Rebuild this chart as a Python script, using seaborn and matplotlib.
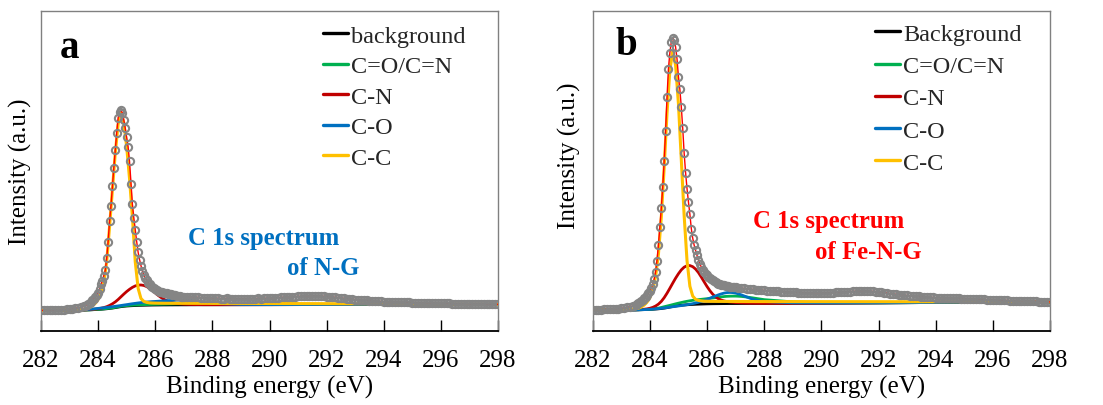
import numpy as np
import matplotlib
matplotlib.use("Agg")
import matplotlib.pyplot as plt
from matplotlib.lines import Line2D
import seaborn as sns

# ---------------- data ----------------
# measured spectrum energies: three regular segments
be_left = np.round(np.arange(282.0, 283.45, 0.1), 2)
be_peak = np.round(np.arange(283.5, 286.975, 0.05), 2)
be_tail = np.round(np.arange(287.0, 298.05, 0.1), 2)

# panel a (N-G) measured intensities
meas_a_left = [6.3, 6.3, 6.3, 6.35, 6.3, 6.4, 6.4, 6.45, 6.5, 6.6, 6.7, 6.8, 7.0, 7.1, 7.3]
meas_a_peak = [7.6, 7.8, 8.0, 8.3, 8.6, 9.0, 9.4, 9.9, 10.4, 11.0,
               11.8, 13.0, 14.5, 15.6, 17.2, 18.8, 22.6, 27.8, 34.2, 39.0,
               45.2, 51.0, 56.5, 61.8, 66.6, 68.4, 68.9, 68.1, 65.8, 63.3,
               60.5, 57.5, 52.9, 46.0, 39.5, 35.3, 31.6, 27.8, 24.5, 22.2,
               20.3, 18.6, 17.3, 16.4, 15.7, 15.0, 14.4, 14.0, 13.6, 13.3,
               12.9, 12.7, 12.5, 12.2, 12.0, 11.9, 11.8, 11.7, 11.6, 11.5,
               11.4, 11.3, 11.2, 11.1, 11.0, 10.9, 10.8, 10.7, 10.6, 10.6]
meas_a_tail = [10.6, 10.6, 10.5, 10.5, 10.4, 10.4, 10.3, 10.3, 10.2, 10.2,
               10.1, 10.1, 10.1, 10.0, 10.0, 10.1, 10.0, 9.9, 10.0, 10.0,
               9.9, 10.0, 10.0, 9.9, 10.0, 10.0, 10.1, 10.0, 10.1, 10.1,
               10.2, 10.2, 10.3, 10.3, 10.4, 10.4, 10.5, 10.5, 10.6, 10.6,
               10.7, 10.7, 10.8, 10.8, 10.8, 10.9, 10.8, 10.8, 10.8, 10.7,
               10.6, 10.5, 10.5, 10.4, 10.3, 10.2, 10.1, 10.0, 9.9, 9.8,
               9.7, 9.6, 9.5, 9.4, 9.4, 9.3, 9.2, 9.2, 9.1, 9.1,
               9.0, 9.0, 9.0, 8.9, 8.9, 8.9, 8.8, 8.8, 8.8, 8.8,
               8.7, 8.7, 8.7, 8.7, 8.6, 8.6, 8.6, 8.6, 8.6, 8.5,
               8.5, 8.5, 8.5, 8.5, 8.4, 8.4, 8.4, 8.4, 8.4, 8.4,
               8.3, 8.3, 8.3, 8.3, 8.3, 8.3, 8.2, 8.2, 8.2, 8.2,
               8.2]

# panel b (Fe-N-G) measured intensities
meas_b_left = [6.7, 6.7, 6.7, 6.7, 6.75, 6.8, 6.8, 6.85, 6.9, 7.0, 7.1, 7.25, 7.4, 7.6, 7.8]
meas_b_peak = [8.0, 8.3, 8.6, 9.0, 9.4, 9.8, 10.2, 10.7, 11.2, 11.8,
               12.5, 13.4, 14.6, 16.2, 18.5, 22.0, 27.0, 32.5, 38.5, 45.0,
               53.0, 62.5, 73.0, 82.0, 87.0, 90.3, 91.6, 90.8, 88.8, 85.0,
               79.5, 75.5, 70.0, 63.3, 55.5, 49.5, 44.5, 40.3, 36.5, 32.0,
               29.0, 26.8, 25.2, 23.6, 22.3, 21.0, 20.0, 19.2, 18.5, 17.9,
               17.4, 17.0, 16.6, 16.2, 15.9, 15.6, 15.3, 15.0, 14.8, 14.6,
               14.5, 14.4, 14.3, 14.2, 14.1, 14.0, 13.9, 13.8, 13.7, 13.6]
meas_b_tail = [13.6, 13.5, 13.4, 13.3, 13.2, 13.1, 13.0, 12.9, 12.8, 12.8,
               12.7, 12.6, 12.6, 12.5, 12.4, 12.4, 12.3, 12.3, 12.2, 12.2,
               12.1, 12.1, 12.0, 12.0, 12.0, 11.9, 11.9, 11.9, 11.9, 11.9,
               11.9, 11.9, 12.0, 12.0, 12.0, 12.1, 12.1, 12.2, 12.2, 12.3,
               12.3, 12.4, 12.4, 12.5, 12.5, 12.5, 12.5, 12.4, 12.4, 12.3,
               12.2, 12.1, 12.0, 11.9, 11.7, 11.6, 11.5, 11.4, 11.3, 11.2,
               11.1, 11.0, 10.9, 10.8, 10.8, 10.7, 10.6, 10.6, 10.5, 10.5,
               10.4, 10.4, 10.4, 10.3, 10.3, 10.3, 10.2, 10.2, 10.2, 10.1,
               10.1, 10.1, 10.0, 10.0, 10.0, 9.9, 9.9, 9.9, 9.8, 9.8,
               9.7, 9.7, 9.7, 9.6, 9.6, 9.6, 9.5, 9.5, 9.5, 9.5,
               9.4, 9.4, 9.4, 9.3, 9.3, 9.3, 9.2, 9.2, 9.2, 9.1,
               9.1]

# fitted components, common energy grid
comp_be = np.concatenate([[282.0, 283.0],
                          np.round(np.arange(283.5, 288.05, 0.1), 2),
                          [289.0, 290.0, 292.0, 294.0, 296.0, 298.0]])

bg_a = [6.3, 6.35,
        6.40, 6.42, 6.45, 6.50, 6.55,
        6.60, 6.65, 6.72, 6.80, 6.90, 7.02, 7.16, 7.32, 7.46, 7.57,
        7.66, 7.72, 7.77, 7.81, 7.85, 7.88, 7.90, 7.92, 7.94, 7.96,
        7.97, 7.98, 7.99, 8.00, 8.00, 8.01, 8.01, 8.02, 8.02, 8.03,
        8.03, 8.03, 8.04, 8.04, 8.04, 8.05, 8.05, 8.05, 8.05, 8.06,
        8.06,
        8.07, 8.08, 8.12, 8.15, 8.18, 8.2]
coxn_a = [6.3, 6.35,
          6.42, 6.44, 6.47, 6.52, 6.58,
          6.64, 6.70, 6.78, 6.87, 6.97, 7.10, 7.25, 7.42, 7.58, 7.70,
          7.80, 7.87, 7.93, 7.98, 8.02, 8.06, 8.09, 8.12, 8.15, 8.18,
          8.20, 8.22, 8.24, 8.26, 8.28, 8.30, 8.32, 8.34, 8.35, 8.36,
          8.37, 8.38, 8.39, 8.40, 8.40, 8.41, 8.41, 8.41, 8.40, 8.40,
          8.39,
          8.30, 8.18, 8.14, 8.16, 8.18, 8.2]
cn_a = [6.3, 6.35,
        6.45, 6.5, 6.55, 6.62, 6.7,
        6.82, 6.97, 7.17, 7.45, 7.85, 8.35, 8.95, 9.7, 10.55, 11.4,
        12.2, 12.9, 13.5, 13.95, 14.2, 14.25, 14.1, 13.75, 13.2, 12.5,
        11.75, 11.0, 10.35, 9.8, 9.35, 9.0, 8.75, 8.55, 8.42, 8.33,
        8.25, 8.2, 8.16, 8.13, 8.11, 8.1, 8.09, 8.08, 8.08, 8.07,
        8.07,
        8.07, 8.08, 8.12, 8.15, 8.18, 8.2]
co_a = [6.3, 6.35,
        6.5, 6.55, 6.63, 6.72, 6.82,
        6.92, 7.02, 7.12, 7.22, 7.33, 7.45, 7.57, 7.7, 7.83, 7.97,
        8.1, 8.24, 8.38, 8.5, 8.62, 8.73, 8.83, 8.91, 8.98, 9.05,
        9.1, 9.16, 9.22, 9.28, 9.33, 9.38, 9.43, 9.47, 9.5, 9.52,
        9.52, 9.5, 9.45, 9.38, 9.28, 9.16, 9.02, 8.88, 8.74, 8.6,
        8.48,
        8.15, 8.1, 8.12, 8.15, 8.18, 8.2]
cc_a = [6.3, 6.4,
        6.6, 6.8, 7.15, 7.7, 8.5,
        9.7, 11.6, 15.0, 21.5, 32.5, 44.0, 55.5, 64.5, 68.3, 65.0,
        57.5, 47.5, 35.5, 21.5, 13.2, 10.0, 9.1, 8.8, 8.65, 8.6,
        8.57, 8.55, 8.54, 8.53, 8.52, 8.52, 8.51, 8.51, 8.5, 8.5,
        8.5, 8.5, 8.5, 8.5, 8.5, 8.5, 8.49, 8.49, 8.49, 8.49,
        8.48,
        8.47, 8.45, 8.4, 8.33, 8.27, 8.22]

bg_b = [6.6, 6.6,
        6.6, 6.62, 6.65, 6.68, 6.72,
        6.76, 6.8, 6.86, 6.93, 7.02, 7.15, 7.3, 7.48, 7.66, 7.82,
        7.95, 8.05, 8.13, 8.2, 8.26, 8.31, 8.35, 8.39, 8.42, 8.45,
        8.48, 8.5, 8.52, 8.53, 8.54, 8.55, 8.56, 8.57, 8.58, 8.58,
        8.59, 8.59, 8.6, 8.6, 8.6, 8.61, 8.61, 8.61, 8.62, 8.62,
        8.62,
        8.65, 8.7, 8.8, 8.9, 8.95, 9.0]
coxn_b = [6.6, 6.6,
          6.62, 6.64, 6.67, 6.71, 6.76,
          6.82, 6.9, 7.0, 7.15, 7.35, 7.58, 7.8, 8.02, 8.25, 8.48,
          8.7, 8.9, 9.1, 9.28, 9.44, 9.58, 9.7, 9.8, 9.9, 10.0,
          10.1, 10.2, 10.32, 10.44, 10.56, 10.67, 10.77, 10.84, 10.88, 10.9,
          10.9, 10.86, 10.8, 10.71, 10.6, 10.48, 10.35, 10.21, 10.07, 9.93,
          9.8,
          9.1, 8.8, 8.8, 8.9, 8.95, 9.0]
cn_b = [6.6, 6.6,
        6.62, 6.66, 6.72, 6.8, 6.92,
        7.1, 7.38, 7.8, 8.4, 9.25, 10.4, 11.8, 13.35, 14.95, 16.5,
        17.9, 19.1, 19.95, 20.4, 20.45, 20.1, 19.35, 18.25, 16.85, 15.35,
        13.9, 12.6, 11.5, 10.65, 10.05, 9.65, 9.38, 9.2, 9.07, 8.98,
        8.9, 8.84, 8.79, 8.75, 8.72, 8.7, 8.68, 8.67, 8.66, 8.65,
        8.65,
        8.66, 8.7, 8.8, 8.9, 8.95, 9.0]
co_b = [6.6, 6.6,
        6.6, 6.62, 6.65, 6.68, 6.72,
        6.78, 6.85, 6.92, 7.0, 7.1, 7.2, 7.32, 7.45, 7.58, 7.7,
        7.82, 7.95, 8.08, 8.22, 8.38, 8.55, 8.75, 8.98, 9.25, 9.55,
        9.9, 10.25, 10.6, 10.95, 11.3, 11.6, 11.85, 12.0, 12.05, 12.0,
        11.85, 11.6, 11.3, 10.95, 10.6, 10.25, 9.95, 9.7, 9.5, 9.35,
        9.2,
        8.8, 8.75, 8.8, 8.9, 8.95, 9.0]
cc_b = [6.6, 6.7,
        6.9, 7.1, 7.5, 8.1, 9.0,
        10.4, 12.8, 17.0, 24.0, 35.5, 51.0, 68.0, 81.5, 87.5, 83.0,
        71.0, 53.5, 36.0, 22.0, 14.0, 10.9, 9.9, 9.55, 9.4, 9.33,
        9.3, 9.28, 9.27, 9.26, 9.25, 9.25, 9.24, 9.24, 9.23, 9.23,
        9.23, 9.22, 9.22, 9.22, 9.21, 9.21, 9.21, 9.2, 9.2, 9.2,
        9.2,
        9.19, 9.18, 9.16, 9.14, 9.12, 9.1]

legend_a = ["background", "C=O/C=N", "C-N", "C-O", "C-C"]
legend_b = ["Background", "C=O/C=N", "C-N", "C-O", "C-C"]
xticks = [282, 284, 286, 288, 290, 292, 294, 296, 298]

# ---------------- style ----------------
sns.set_theme(style="white")
plt.rcParams["font.family"] = ["Liberation Serif", "DejaVu Serif"]

comp_colors = ["#000000", "#00B050", "#C00000", "#0070C0", "#FFC000"]
comp_lw = [2.0, 2.0, 2.0, 2.0, 2.2]

fig = plt.figure(figsize=(11.03, 4.06), dpi=100)
ax_a = fig.add_axes([41 / 1103, 1 - 331.5 / 406, 457 / 1103, 319.5 / 406])
ax_b = fig.add_axes([592.7 / 1103, 1 - 332 / 406, 457.3 / 1103, 320 / 406])


def draw(ax, meas_y, comps, labels, letter, note1, note2, note_color, n1xy, n2xy,
         ylab_xy, leg_y, leg_sp):
    be = np.concatenate([be_left, be_peak, be_tail])
    y = np.concatenate([meas_y[0], meas_y[1], meas_y[2]])
    for k, (vals, c, lw) in enumerate(zip(comps, comp_colors, comp_lw)):
        sns.lineplot(x=comp_be, y=vals, ax=ax, color=c, lw=lw, estimator=None,
                     sort=False, legend=False, zorder=2 + k)
    # fitted envelope (follows the measured points)
    sns.lineplot(x=be, y=y, ax=ax, color="#FF0000", lw=1.0, estimator=None,
                 sort=False, legend=False, zorder=8)
    # measured points
    sns.lineplot(x=be, y=y, ax=ax, marker="o", linestyle="none", lw=0,
                 markersize=5.2, markerfacecolor="none", markeredgecolor="#858585",
                 markeredgewidth=1.5, estimator=None, sort=False, legend=False, zorder=9)
    ax.set_xlim(282, 298)
    ax.set_ylim(0, 100)
    ax.set_xticks(xticks)
    ax.set_xticklabels([str(t) for t in xticks])
    ax.set_yticks([])
    ax.tick_params(axis="x", bottom=True, direction="in", length=8, width=1,
                   color="black", labelsize=18, pad=13, labelcolor="black")
    for s in ["left", "top", "right"]:
        ax.spines[s].set_color("#808080")
        ax.spines[s].set_linewidth(1.0)
    ax.spines["bottom"].set_color("black")
    ax.spines["bottom"].set_linewidth(1.3)
    ax.set_xlabel("Binding energy (eV)", fontsize=18, color="black", labelpad=3)
    ax.set_ylabel("Intensity (a.u.)", fontsize=18, color="black")
    ax.yaxis.set_label_coords(*ylab_xy)
    handles = [Line2D([], [], color=c, lw=2.4) for c in comp_colors]
    ax.legend(handles, labels, loc="upper left", bbox_to_anchor=(0.617, leg_y),
              frameon=False, fontsize=17.5, handlelength=1.05, handletextpad=0.12,
              labelspacing=leg_sp, borderpad=0, borderaxespad=0)
    ax.text(letter[1], letter[2], letter[0], transform=ax.transAxes, fontsize=28,
            fontweight="bold", color="black", ha="left", va="baseline")
    ax.text(n1xy[0], n1xy[1], note1, transform=ax.transAxes, fontsize=17.8,
            fontweight="bold", color=note_color, ha="left", va="baseline")
    ax.text(n2xy[0], n2xy[1], note2, transform=ax.transAxes, fontsize=17.8,
            fontweight="bold", color=note_color, ha="left", va="baseline")


draw(ax_a, [meas_a_left, meas_a_peak, meas_a_tail],
     [bg_a, coxn_a, cn_a, co_a, cc_a], legend_a, ("a", 0.042, 0.856),
     "C 1s spectrum", "of N-G", "#0070C0", (0.322, 0.270), (0.538, 0.176),
     (-0.02, 0.5), 0.957, 0.35)
draw(ax_b, [meas_b_left, meas_b_peak, meas_b_tail],
     [bg_b, coxn_b, cn_b, co_b, cc_b], legend_b, ("b", 0.049, 0.865),
     "C 1s spectrum", "of Fe-N-G", "#FF0000", (0.351, 0.325), (0.486, 0.229),
     (-0.025, 0.55), 0.963, 0.42)

fig.savefig("out.png", dpi=100)
